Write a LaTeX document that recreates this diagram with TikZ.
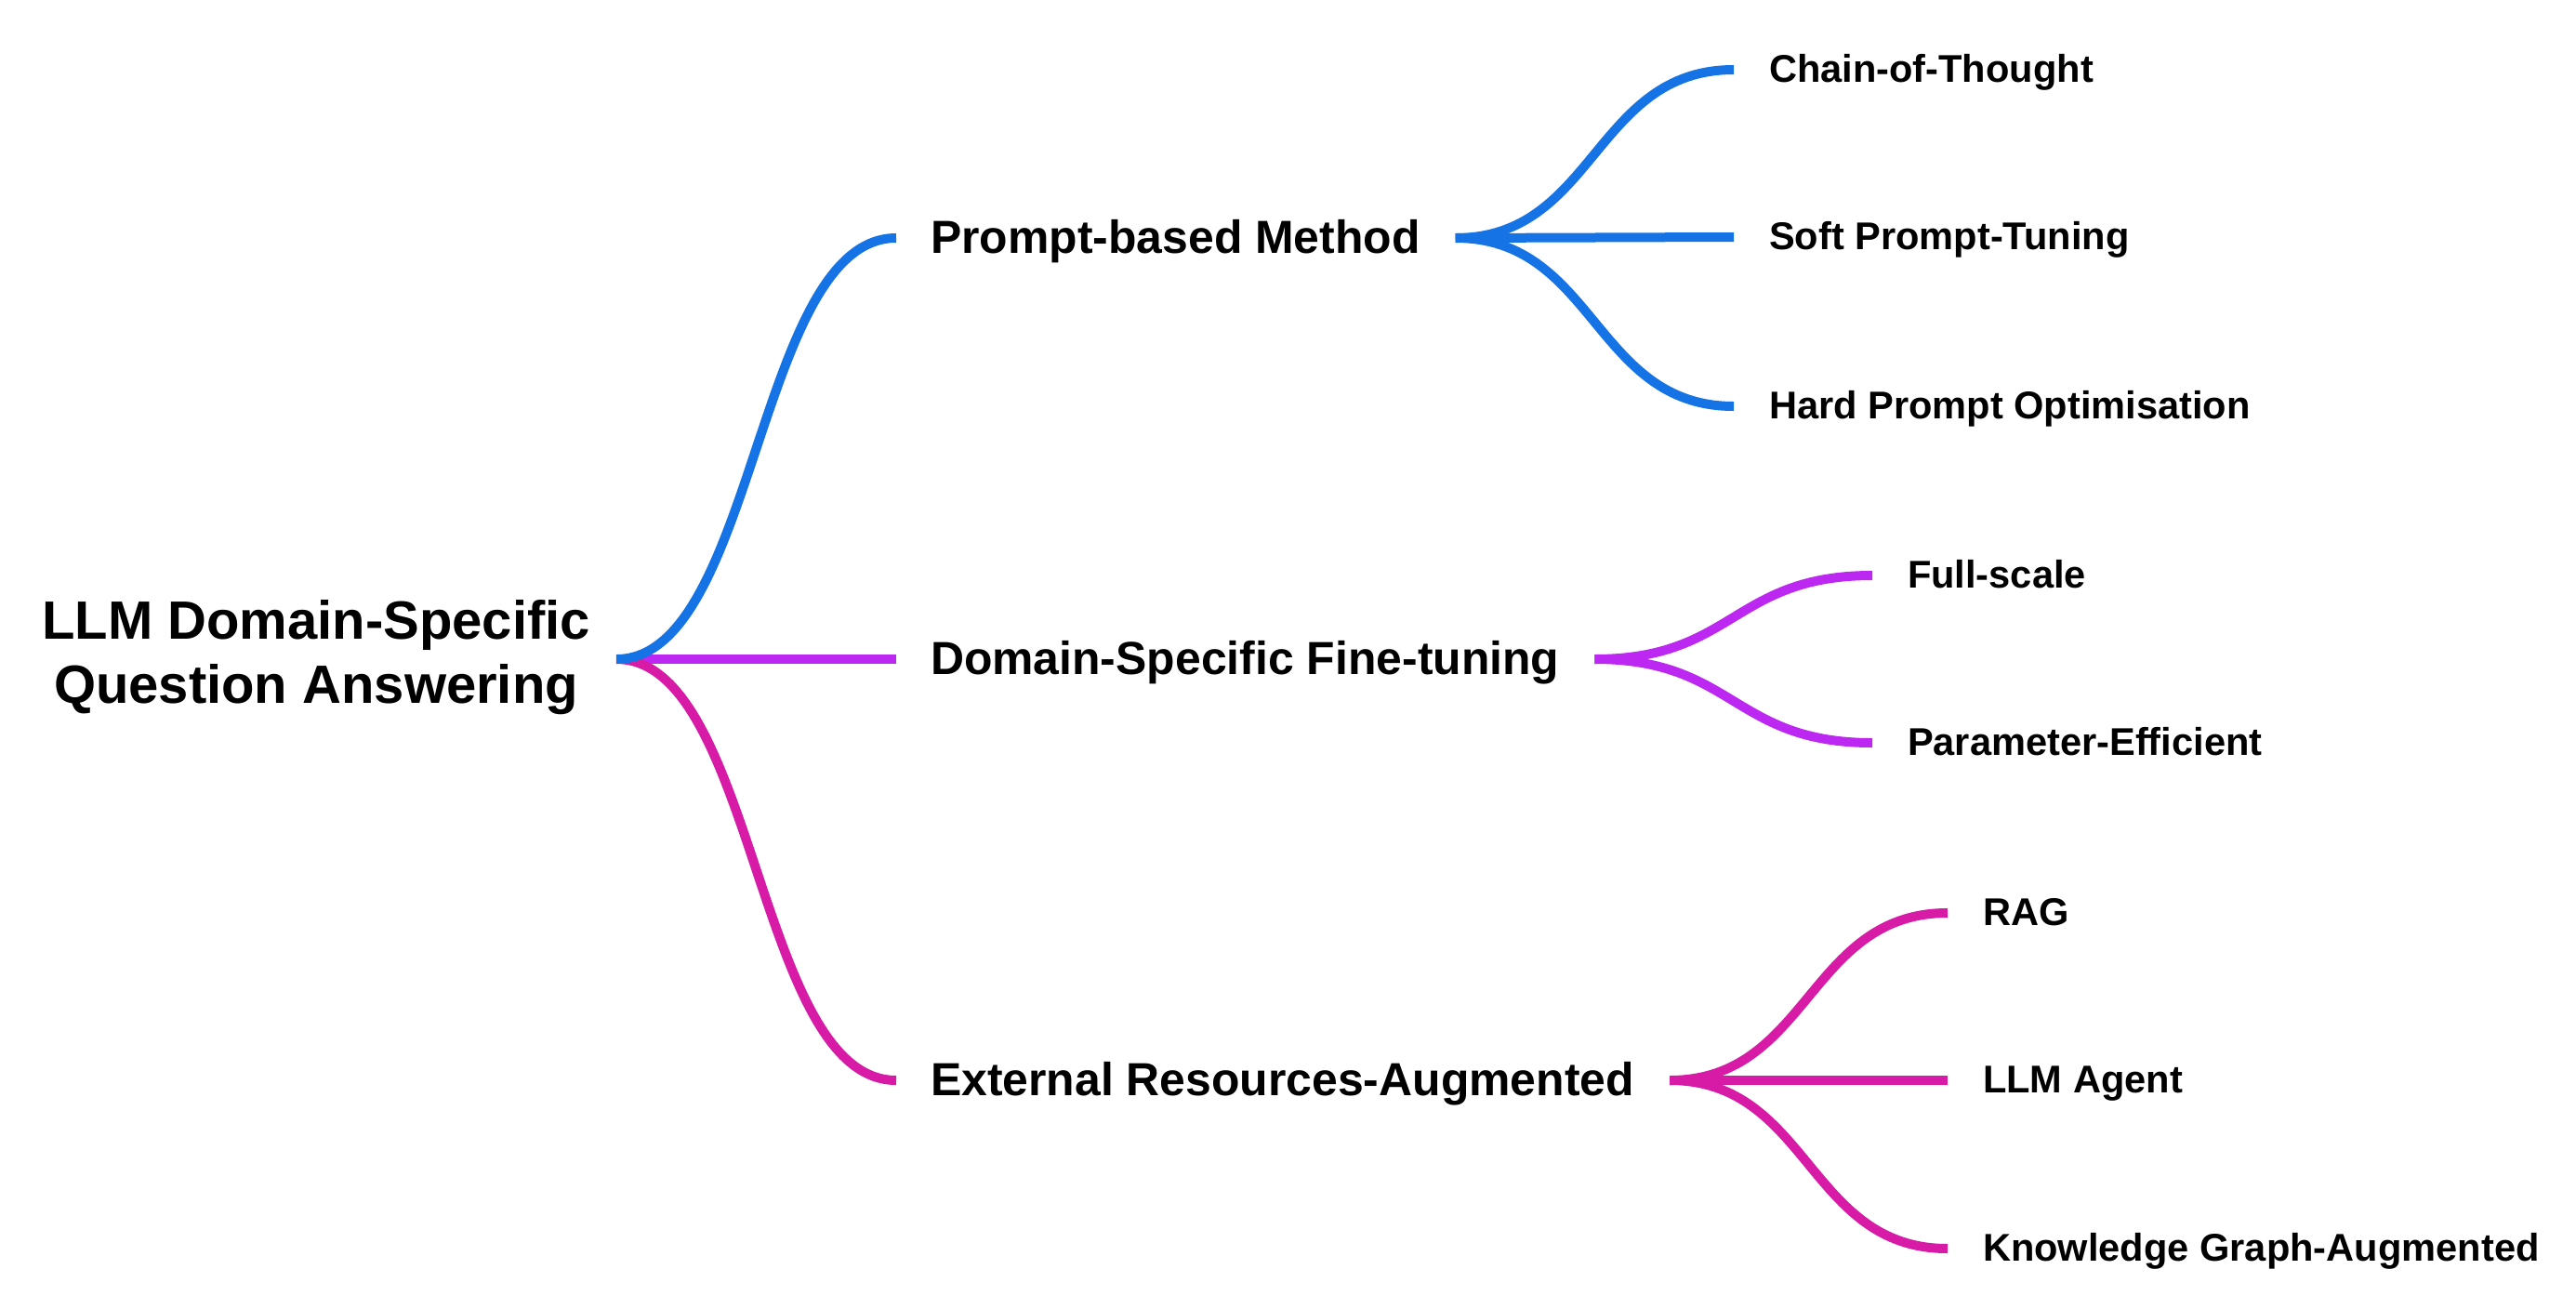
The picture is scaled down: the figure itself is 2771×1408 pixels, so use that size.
\documentclass[tikz,border=0pt]{standalone}
\usepackage{fontspec}
\setmainfont{Liberation Sans}
\usetikzlibrary{calc}
\definecolor{cblue}{HTML}{1673E6}
\definecolor{cpurple}{HTML}{BD27F2}
\definecolor{cmag}{HTML}{D81BA6}
\tikzset{
  txt/.style={inner sep=0pt, outer sep=0pt, anchor=base west, font=\bfseries},
  rootfont/.style={font=\fontsize{58}{69}\selectfont\bfseries},
  brfont/.style={font=\fontsize{49.9}{59}\selectfont\bfseries},
  leaffont/.style={font=\fontsize{41.6}{49}\selectfont\bfseries},
  link/.style={line width=10pt, line cap=butt},
}
\begin{document}
\begin{tikzpicture}[x=1pt, y=-1pt]
\useasboundingbox (0,0) rectangle (2771,1408);
% root
\node[inner sep=0pt, outer sep=0pt, anchor=base, rootfont] (root1) at (340,687) {LLM Domain-Specific};
\node[inner sep=0pt, outer sep=0pt, anchor=base, rootfont] (root2) at (340,756) {Question Answering};
\coordinate (rootR) at (663,709);
% branches
\node[txt, brfont] (pm) at (1001,272) {Prompt-based Method};
\node[txt, brfont] (ds) at (1001,725) {Domain-Specific Fine-tuning};
\node[txt, brfont] (ex) at (1001,1178) {External Resources-Augmented};
% leaves
\node[txt, leaffont] (cot) at (1903,88) {Chain-of-Thought};
\node[txt, leaffont] (spt) at (1903,268) {Soft Prompt-Tuning};
\node[txt, leaffont] (hpo) at (1903,450) {Hard Prompt Optimisation};
\node[txt, leaffont] (fs) at (2052,632) {Full-scale};
\node[txt, leaffont] (pe) at (2052,812) {Parameter-Efficient};
\node[txt, leaffont] (rag) at (2133,995) {RAG};
\node[txt, leaffont] (agent) at (2133,1175) {LLM Agent};
\node[txt, leaffont] (kg) at (2133,1356) {Knowledge Graph-Augmented};
% connector points
\coordinate (pmL) at ($(pm.base west)+(-37,-16)$);
\coordinate (dsL) at ($(ds.base west)+(-37,-16)$);
\coordinate (exL) at ($(ex.base west)+(-37,-16)$);
\coordinate (pmR) at ($(pm.base east)+(38,-16)$);
\coordinate (dsR) at ($(ds.base east)+(38,-16)$);
\coordinate (exR) at ($(ex.base east)+(38,-16)$);
\coordinate (cotL) at ($(cot.base west)+(-38,-13)$);
\coordinate (sptL) at ($(spt.base west)+(-38,-13)$);
\coordinate (hpoL) at ($(hpo.base west)+(-38,-13)$);
\coordinate (fsL) at ($(fs.base west)+(-38,-13)$);
\coordinate (peL) at ($(pe.base west)+(-38,-13)$);
\coordinate (ragL) at ($(rag.base west)+(-38,-13)$);
\coordinate (agentL) at ($(agent.base west)+(-38,-13)$);
\coordinate (kgL) at ($(kg.base west)+(-38,-13)$);
% root links
\draw[link, cpurple] (rootR) -- (dsL);
\draw[link, cmag] (rootR) .. controls +(150,0) and +(-150,0) .. (exL);
\draw[link, cblue] (rootR) .. controls +(150,0) and +(-150,0) .. (pmL);
% prompt fan
\draw[link, cblue] (pmR) .. controls +(150,0) and +(-150,0) .. (cotL);
\draw[link, cblue] (pmR) -- (sptL);
\draw[link, cblue] (pmR) .. controls +(150,0) and +(-150,0) .. (hpoL);
% fine-tuning fan
\draw[link, cpurple] (dsR) .. controls +(150,0) and +(-150,0) .. (fsL);
\draw[link, cpurple] (dsR) .. controls +(150,0) and +(-150,0) .. (peL);
% external fan
\draw[link, cmag] (exR) .. controls +(150,0) and +(-150,0) .. (ragL);
\draw[link, cmag] (exR) -- (agentL);
\draw[link, cmag] (exR) .. controls +(150,0) and +(-150,0) .. (kgL);
\end{tikzpicture}
\end{document}
